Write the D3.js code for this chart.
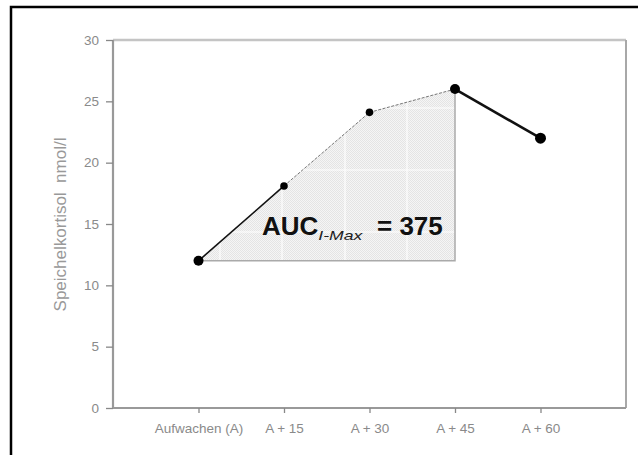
<!DOCTYPE html>
<html>
<head>
<meta charset="utf-8">
<script src="https://cdn.jsdelivr.net/npm/d3@7"></script>
<style>
  body { margin: 0; background: #fff; }
  svg { display: block; font-family: "Liberation Sans", Arial, sans-serif; }
</style>
</head>
<body>
<div id="chart"></div>
<script>
// cortisol awakening response, AUC with respect to increase up to max
const categories = ["Aufwachen (A)", "A + 15", "A + 30", "A + 45", "A + 60"];
const values = [12, 18.1, 24.1, 26, 22];
const yTicks = [0, 5, 10, 15, 20, 25, 30];
const aucLabel = "AUC";
const aucSub = "I-Max";
const aucValue = 375;
const maxIndex = 3; // A + 45

const width = 638, height = 455;
const plotLeft = 113, plotRight = 626, plotTop = 40, plotBottom = 408;

const svg = d3.select("#chart").append("svg")
  .attr("width", width)
  .attr("height", height);

const x = d3.scaleLinear().domain([0, categories.length + 1]).range([plotLeft, plotRight]);
const y = d3.scaleLinear().domain([0, 30]).range([plotBottom, plotTop]);

// outer frame (runs off the right and bottom)
svg.append("rect")
  .attr("x", 11).attr("y", 7)
  .attr("width", 700).attr("height", 600)
  .attr("fill", "none")
  .attr("stroke", "#000")
  .attr("stroke-width", 2.5);

// fill patterns
const defs = svg.append("defs");
const pat = defs.append("pattern")
  .attr("id", "dots")
  .attr("patternUnits", "userSpaceOnUse")
  .attr("width", 2).attr("height", 2);
pat.append("rect").attr("width", 2).attr("height", 2).attr("fill", "#f6f6f6");
pat.append("rect").attr("width", 1).attr("height", 1).attr("fill", "#e4e4e4");
pat.append("rect").attr("x", 1).attr("y", 1).attr("width", 1).attr("height", 1).attr("fill", "#e4e4e4");

// AUC polygon: from first point along the curve to the maximum, down to baseline
const base = values[0];
const polyPts = values.slice(0, maxIndex + 1).map((v, i) => [x(i + 1), y(v)]);
polyPts.push([x(maxIndex + 1), y(base)]);

defs.append("clipPath").attr("id", "aucClip")
  .append("polygon").attr("points", polyPts.join(" "));

svg.append("polygon")
  .attr("points", polyPts.join(" "))
  .attr("fill", "url(#dots)")
  .attr("stroke", "none");

// faint white grid inside shaded area
const grid = svg.append("g").attr("clip-path", "url(#aucClip)")
  .attr("stroke", "#fff").attr("stroke-width", 1.2).attr("opacity", 0.9);
[220, 282, 345, 407].forEach(gx => {
  grid.append("line").attr("x1", gx).attr("x2", gx).attr("y1", plotTop).attr("y2", plotBottom);
});
[108, 170, 232].forEach(gy => {
  grid.append("line").attr("x1", plotLeft).attr("x2", plotRight).attr("y1", gy).attr("y2", gy);
});

// polygon right edge and baseline
svg.append("path")
  .attr("d", d3.line()([[x(1), y(base)], [x(maxIndex + 1), y(base)], [x(maxIndex + 1), y(values[maxIndex])]]))
  .attr("fill", "none")
  .attr("stroke", "#aaa")
  .attr("stroke-width", 1.5);

// plot box: top and right in lighter grey
svg.append("line")
  .attr("x1", plotLeft).attr("x2", plotRight).attr("y1", plotTop).attr("y2", plotTop)
  .attr("stroke", "#c4c4c4").attr("stroke-width", 2.5);
svg.append("line")
  .attr("x1", plotRight).attr("x2", plotRight).attr("y1", plotTop).attr("y2", plotBottom)
  .attr("stroke", "#a8a8a8").attr("stroke-width", 2);

// axes
const yAxis = svg.append("g")
  .attr("transform", `translate(${plotLeft},0)`)
  .call(d3.axisLeft(y).tickValues(yTicks).tickSize(7).tickPadding(7));
const xAxis = svg.append("g")
  .attr("transform", `translate(0,${plotBottom})`)
  .call(d3.axisBottom(x).tickValues(d3.range(1, categories.length + 1))
    .tickFormat(i => categories[i - 1]).tickSize(5).tickPadding(10));

[yAxis, xAxis].forEach(g => {
  g.select(".domain").attr("stroke", "#999").attr("stroke-width", 2.2);
  g.selectAll(".tick line").attr("stroke", "#888").attr("stroke-width", 1.3);
  g.selectAll(".tick text")
    .attr("fill", "#8a8a8a")
    .attr("font-size", 13.5)
    .attr("font-family", "'Liberation Sans', Arial, sans-serif");
});
// keep the axis line ending exactly at the box
yAxis.select(".domain").attr("d", `M0,${plotBottom}V${plotTop}`);
xAxis.select(".domain").attr("d", `M${plotLeft},0H${plotRight}`);

// y label
svg.append("text")
  .attr("transform", `translate(66,${(132 + 317) / 2}) rotate(-90)`)
  .attr("text-anchor", "middle")
  .attr("fill", "#999")
  .attr("font-size", 17)
  .attr("xml:space", "preserve")
  .text("Speichelkortisol  nmol/l");

// line segments
const segs = [
  { a: 0, b: 1, stroke: "#111", w: 1.6, dash: null },
  { a: 1, b: 2, stroke: "#777", w: 1, dash: "3,1.5" },
  { a: 2, b: 3, stroke: "#777", w: 1, dash: "3,1.5" },
  { a: 3, b: 4, stroke: "#111", w: 2.6, dash: null }
];
svg.append("g").selectAll("line")
  .data(segs)
  .join("line")
  .attr("x1", d => x(d.a + 1)).attr("y1", d => y(values[d.a]))
  .attr("x2", d => x(d.b + 1)).attr("y2", d => y(values[d.b]))
  .attr("stroke", d => d.stroke)
  .attr("stroke-width", d => d.w)
  .attr("stroke-dasharray", d => d.dash);

// markers
const radii = [5, 3.8, 3.8, 5, 5.5];
svg.append("g").selectAll("circle")
  .data(values)
  .join("circle")
  .attr("cx", (d, i) => x(i + 1))
  .attr("cy", d => y(d))
  .attr("r", (d, i) => radii[i])
  .attr("fill", "#000");

// AUC annotation
const t = svg.append("text")
  .attr("x", 262).attr("y", 235)
  .attr("fill", "#111")
  .attr("font-weight", "bold")
  .attr("font-size", 26);
t.append("tspan").text(aucLabel);
t.append("tspan")
  .attr("font-size", 13)
  .attr("font-style", "italic")
  .attr("font-weight", "normal")
  .attr("fill", "#222")
  .attr("dy", 5)
  .attr("textLength", 44)
  .attr("lengthAdjust", "spacingAndGlyphs")
  .text(aucSub);
t.append("tspan")
  .attr("x", 377)
  .attr("dy", -5)
  .text("= " + aucValue);
</script>
</body>
</html>
